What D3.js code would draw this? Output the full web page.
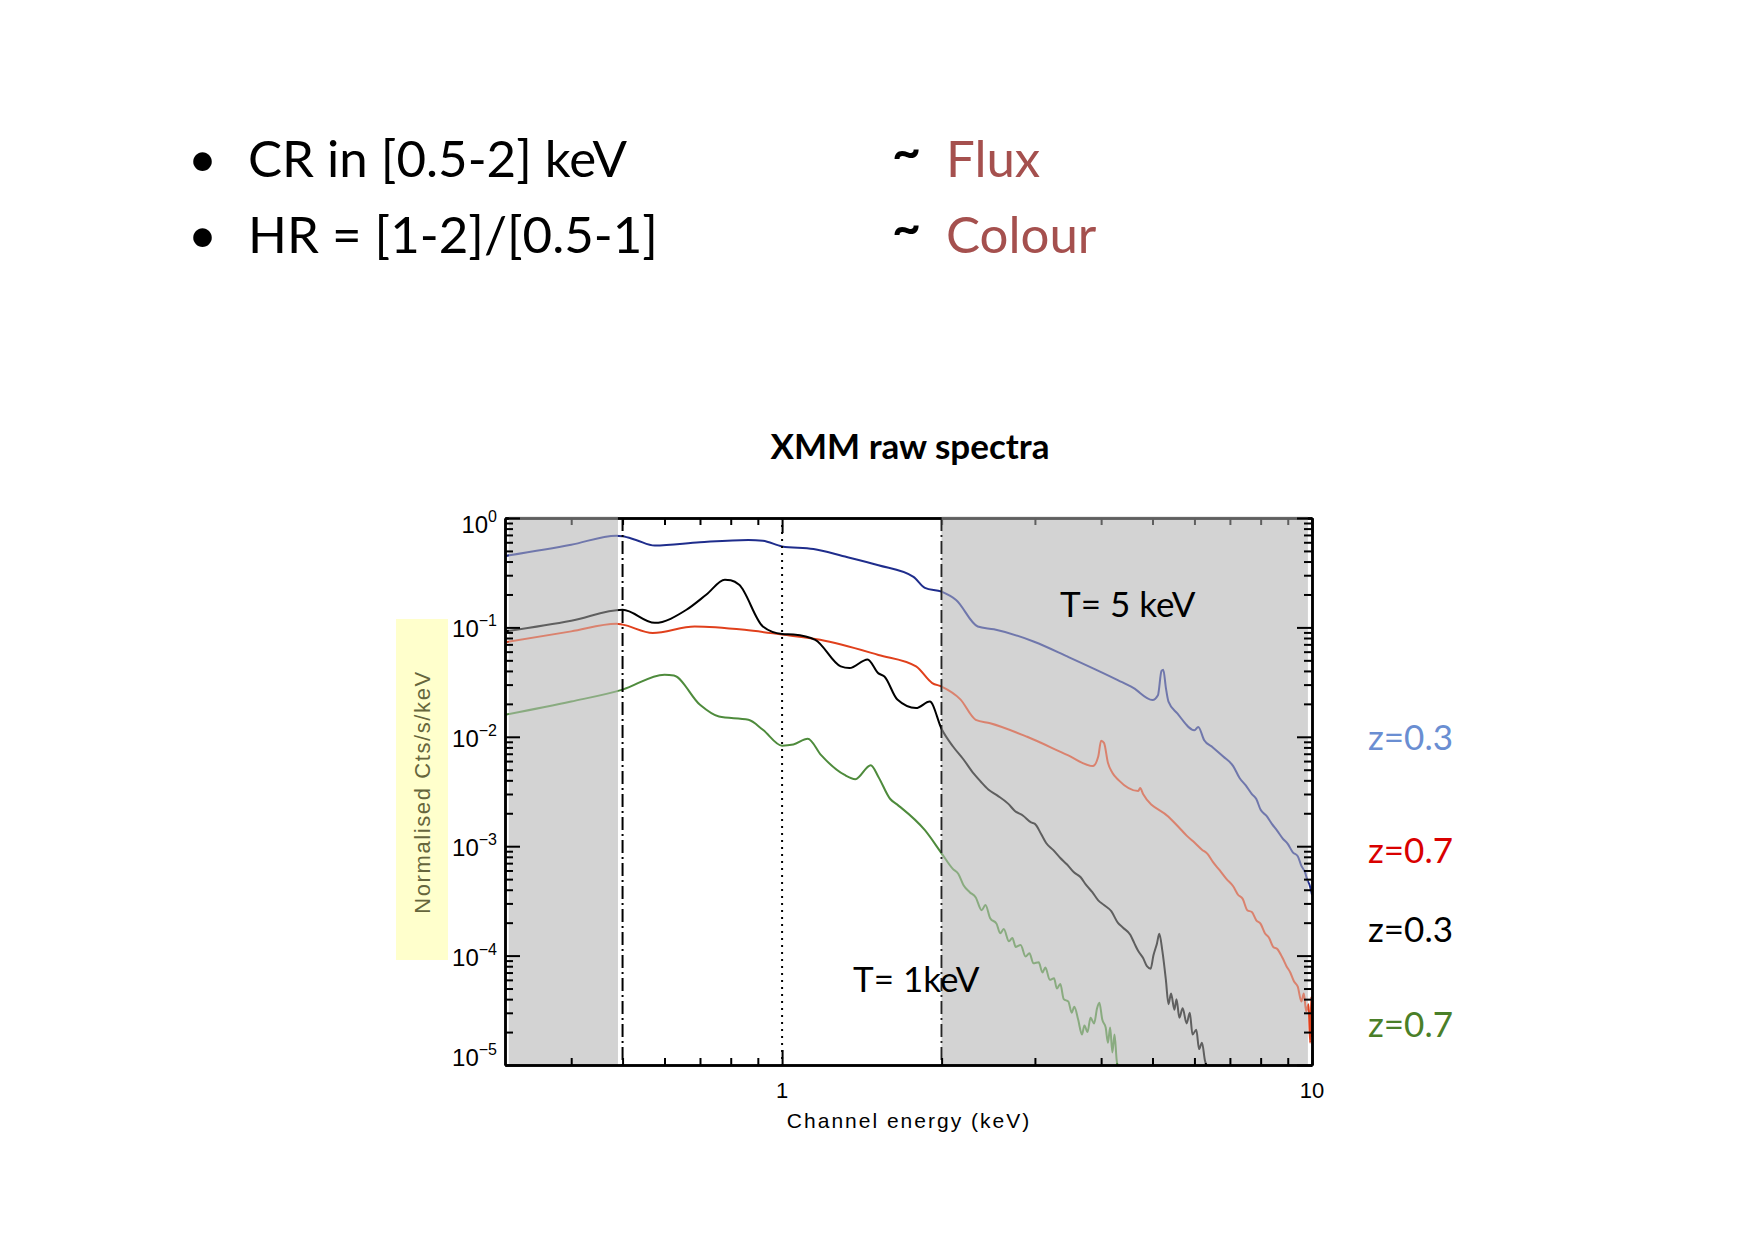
<!DOCTYPE html>
<html>
<head>
<meta charset="utf-8">
<script src="https://cdn.jsdelivr.net/npm/d3@7"></script>
<style>
  body { margin: 0; background: #fff; }
  svg { display: block; }
</style>
</head>
<body>
<svg id="chart" width="1754" height="1239"></svg>
<script>
// spectra: [channel energy (keV), normalised counts/s/keV]
const blueT5z03 = [
  [0.30, 0.45], [0.40, 0.57], [0.487, 0.69], [0.50, 0.68], [0.53, 0.63], [0.575, 0.56],
  [0.70, 0.60], [0.864, 0.63], [0.92, 0.62], [1.0, 0.55], [1.146, 0.52], [1.3, 0.45],
  [1.52, 0.37], [1.77, 0.29], [1.86, 0.23], [2.0, 0.212], [2.13, 0.178], [2.34, 0.102],
  [2.51, 0.096], [2.99, 0.074], [3.46, 0.054], [4.3, 0.033], [4.6, 0.028], [5.0, 0.0217],
  [5.12, 0.024], [5.2, 0.040], [5.24, 0.041], [5.3, 0.028], [5.36, 0.021], [5.57, 0.0164],
  [6.0, 0.0115], [6.1, 0.0123], [6.26, 0.0093], [6.5, 0.0080], [6.8, 0.0066], [7.1, 0.0054],
  [7.3, 0.0042], [7.5, 0.0036], [7.7, 0.0030], [7.85, 0.0027], [8.0, 0.00215], [8.2, 0.0019],
  [8.4, 0.0016], [8.6, 0.00138], [8.8, 0.00118], [9.0, 0.00105], [9.2, 0.00088], [9.4, 0.00081],
  [9.55, 0.00066], [9.7, 0.00058], [9.8, 0.00049], [9.9, 0.00044], [10, 0.00036]
];
const redT5z07 = [
  [0.30, 0.073], [0.40, 0.092], [0.487, 0.108], [0.50, 0.106], [0.57, 0.089], [0.684, 0.102],
  [0.85, 0.095], [1.0, 0.086], [1.18, 0.077], [1.52, 0.056], [1.79, 0.044], [1.92, 0.031],
  [2.0, 0.0288], [2.17, 0.022], [2.32, 0.0143], [2.47, 0.0133], [2.9, 0.010], [3.46, 0.0068],
  [3.86, 0.0054], [3.95, 0.0066], [4.0, 0.0092], [4.05, 0.0088], [4.12, 0.0058], [4.2, 0.0047],
  [4.32, 0.0040], [4.7, 0.0032], [4.74, 0.0034], [4.8, 0.0030], [5.36, 0.00186], [5.6, 0.0015],
  [5.8, 0.00125], [6.0, 0.00108], [6.2, 0.00093], [6.35, 0.00085], [6.5, 0.00072], [6.7, 0.0006],
  [6.9, 0.0005], [7.1, 0.00043], [7.25, 0.00036], [7.4, 0.00033], [7.55, 0.00026], [7.7, 0.00025],
  [7.85, 0.00021], [8.0, 0.000195], [8.15, 0.00016], [8.3, 0.000145], [8.45, 0.00012],
  [8.6, 0.000115], [8.8, 0.000095], [8.95, 0.00008], [9.1, 0.00007], [9.25, 0.000058],
  [9.4, 0.000052], [9.55, 0.000038], [9.65, 0.000045], [9.75, 0.000031], [9.85, 0.000036],
  [9.92, 0.000016], [9.97, 0.000042], [10, 0.000018]
];
const blackT1z03 = [
  [0.30, 0.092], [0.40, 0.115], [0.50, 0.145], [0.575, 0.11], [0.66, 0.145], [0.72, 0.20],
  [0.78, 0.273], [0.80, 0.27], [0.83, 0.245], [0.92, 0.102], [1.0, 0.087], [1.05, 0.086],
  [1.155, 0.077], [1.29, 0.044], [1.34, 0.0425], [1.45, 0.051], [1.52, 0.038], [1.56, 0.0356],
  [1.65, 0.0219], [1.79, 0.0183], [1.90, 0.021], [2.0, 0.0118], [2.1, 0.0082], [2.2, 0.0062],
  [2.3, 0.0046], [2.37, 0.0039], [2.45, 0.0033], [2.55, 0.0029], [2.67, 0.00245], [2.75, 0.0021],
  [2.85, 0.0019], [2.95, 0.00165], [3.0, 0.0016], [3.08, 0.0013], [3.15, 0.00107], [3.25, 0.00092],
  [3.35, 0.00078], [3.45, 0.00068], [3.55, 0.00058], [3.66, 0.00052], [3.75, 0.00044],
  [3.85, 0.00038], [3.95, 0.00032], [4.05, 0.00029], [4.18, 0.000255], [4.3, 0.0002],
  [4.4, 0.00018], [4.54, 0.000155], [4.62, 0.00013], [4.7, 0.00011], [4.8, 0.000095],
  [4.88, 0.00008], [4.96, 0.000076], [5.02, 0.0001], [5.1, 0.00013], [5.15, 0.000158],
  [5.22, 0.00011], [5.3, 0.00006], [5.36, 0.000036], [5.42, 0.000045], [5.5, 0.000032],
  [5.55, 0.00004], [5.62, 0.000027], [5.7, 0.000033], [5.8, 0.000024], [5.88, 0.00003],
  [5.95, 0.000019], [6.05, 0.000021], [6.12, 0.000014], [6.2, 0.000016], [6.28, 0.000011],
  [6.35, 0.0000095]
];
const greenT1z07 = [
  [0.30, 0.0159], [0.40, 0.021], [0.50, 0.027], [0.60, 0.037], [0.625, 0.0363], [0.70, 0.0196],
  [0.76, 0.0153], [0.864, 0.0143], [0.92, 0.0116], [1.0, 0.0083], [1.05, 0.0085], [1.118, 0.0096],
  [1.185, 0.0068], [1.31, 0.0045], [1.375, 0.0041], [1.47, 0.0055], [1.52, 0.0043], [1.6, 0.0027],
  [1.65, 0.0024], [1.86, 0.0014], [2.0, 0.00086], [2.1, 0.00062], [2.15, 0.00056], [2.2, 0.00044],
  [2.26, 0.00038], [2.32, 0.00034], [2.38, 0.00026], [2.42, 0.00029], [2.47, 0.00022],
  [2.54, 0.000195], [2.58, 0.00016], [2.62, 0.000175], [2.68, 0.000135], [2.72, 0.000145],
  [2.76, 0.00012], [2.82, 0.000125], [2.88, 0.000098], [2.93, 0.000105], [2.98, 0.000085],
  [3.05, 0.000087], [3.1, 0.00007], [3.14, 0.000078], [3.2, 0.00006], [3.26, 0.000062],
  [3.3, 0.00005], [3.35, 0.000055], [3.4, 0.00004], [3.47, 0.000038], [3.52, 0.00003],
  [3.56, 0.000034], [3.62, 0.000026], [3.68, 0.000019], [3.72, 0.000023], [3.77, 0.00002],
  [3.82, 0.000027], [3.88, 0.000024], [3.93, 0.000033], [3.97, 0.000037], [4.02, 0.000026],
  [4.08, 0.000022], [4.12, 0.000016], [4.16, 0.000022], [4.2, 0.000013], [4.24, 0.000019],
  [4.28, 0.000011], [4.32, 0.000009]
];

const spectra = [
  { data: blueT5z03, color: "#1f2d8c" },
  { data: redT5z07, color: "#e0401c" },
  { data: blackT1z03, color: "#000000" },
  { data: greenT1z07, color: "#4e8b3c" }
];

const xMajor = [1, 10];
const xMinor = [0.4, 0.5, 0.6, 0.7, 0.8, 0.9, 2, 3, 4, 5, 6, 7, 8, 9];
const yMajor = [1, 1e-1, 1e-2, 1e-3, 1e-4, 1e-5];
const yMinorMult = [2, 3, 4, 5, 6, 7, 8, 9];
const excluded = [[0.305, 0.49], [2, 9.82]];      // shaded energy ranges
const bandMarkers = [
  { e: 0.5, dash: "13,4,2,4" },
  { e: 1, dash: "2,5" },
  { e: 2, dash: "13,4,2,4" }
];
const bulletLines = [
  { text: "CR in [0.5-2] keV", proxy: "Flux" },
  { text: "HR = [1-2]/[0.5-1]", proxy: "Colour" }
];
const zLabels = [
  { text: "z=0.3", color: "#6a8ed2" },
  { text: "z=0.7", color: "#d90000" },
  { text: "z=0.3", color: "#000000" },
  { text: "z=0.7", color: "#4a7f28" }
];

const svg = d3.select("#chart");
const plot = { left: 505, right: 1312, top: 518, bottom: 1065 };

const x = d3.scaleLog().domain([0.3, 10]).range([plot.left, plot.right]);
const y = d3.scaleLog().domain([1e-5, 1]).range([plot.bottom, plot.top]);

const sansIDL = "'Liberation Sans', Arial, sans-serif";
const slide = "Lato, 'Open Sans', sans-serif";

// bullet text
bulletLines.forEach((b, i) => {
  const base = 177 + i * 76;
  svg.append("text").attr("x", 188).attr("y", base)
    .attr("font-family", slide).attr("font-size", 50).text("•");
  svg.append("text").attr("x", 248).attr("y", base)
    .attr("font-family", slide).attr("font-size", 51).text(b.text);
  svg.append("text").attr("x", 892).attr("y", base - 8)
    .attr("font-family", slide).attr("font-size", 50).attr("font-weight", 700).text("~");
  svg.append("text").attr("x", 946).attr("y", base)
    .attr("font-family", slide).attr("font-size", 51).attr("fill", "#a5504e").text(b.proxy);
});

// title
svg.append("text").attr("x", 910).attr("y", 459).attr("text-anchor", "middle")
  .attr("font-family", slide).attr("font-size", 35).attr("font-weight", 700)
  .text("XMM raw spectra");

// y label box
svg.append("rect").attr("x", 396).attr("y", 619).attr("width", 52).attr("height", 341)
  .attr("fill", "#ffffcc");
svg.append("text")
  .attr("transform", "translate(430,792) rotate(-90)")
  .attr("text-anchor", "middle")
  .attr("font-family", sansIDL).attr("font-size", 22).attr("letter-spacing", 1.6)
  .attr("fill", "#66663c")
  .text("Normalised Cts/s/keV");

// shaded ranges
svg.selectAll(".band").data(excluded).enter().append("rect")
  .attr("class", "band")
  .attr("x", d => x(d[0])).attr("y", plot.top)
  .attr("width", d => x(d[1]) - x(d[0])).attr("height", plot.bottom - plot.top)
  .attr("fill", "#d3d3d3");

// curves
svg.append("clipPath").attr("id", "clip").append("rect")
  .attr("x", plot.left).attr("y", plot.top)
  .attr("width", plot.right - plot.left).attr("height", plot.bottom - plot.top);

const line = d3.line()
  .x(d => x(d[0]))
  .y(d => y(d[1]))
  .curve(d3.curveMonotoneX);

svg.append("g").attr("clip-path", "url(#clip)")
  .selectAll("path").data(spectra).enter().append("path")
  .attr("d", d => line(d.data))
  .attr("fill", "none")
  .attr("stroke", d => d.color)
  .attr("stroke-width", 2)
  .attr("stroke-linejoin", "round");

// band boundaries
svg.selectAll(".marker").data(bandMarkers).enter().append("line")
  .attr("class", "marker")
  .attr("x1", d => x(d.e)).attr("x2", d => x(d.e))
  .attr("y1", plot.top).attr("y2", plot.bottom)
  .attr("stroke", "#000").attr("stroke-width", 2)
  .attr("stroke-dasharray", d => d.dash);

const yMinor = [];
yMajor.slice(1).forEach(v => yMinorMult.forEach(m => yMinor.push(v * m)));

function axis(gen, transform, values, size) {
  const g = svg.append("g").attr("transform", transform)
    .call(gen.tickValues(values).tickSize(size).tickSizeOuter(0).tickFormat(""));
  g.select(".domain").attr("stroke", "#000").attr("stroke-width", 2.5);
  g.selectAll(".tick line").attr("stroke", "#000").attr("stroke-width", 2);
  return g;
}

// top axis sits under the shading, like the original
axis(d3.axisTop(x), `translate(0,${plot.top})`, xMajor, -15);
axis(d3.axisTop(x), `translate(0,${plot.top})`, xMinor, -7);

// translucent shading over the curves
svg.selectAll(".veil").data(excluded).enter().append("rect")
  .attr("class", "veil")
  .attr("x", d => x(d[0])).attr("y", plot.top - 2)
  .attr("width", d => x(d[1]) - x(d[0])).attr("height", plot.bottom - plot.top)
  .attr("fill", "#d3d3d3").attr("opacity", 0.45);

axis(d3.axisBottom(x), `translate(0,${plot.bottom})`, xMajor, -15);
axis(d3.axisBottom(x), `translate(0,${plot.bottom})`, xMinor, -7);
axis(d3.axisLeft(y), `translate(${plot.left},0)`, yMajor, -15);
axis(d3.axisLeft(y), `translate(${plot.left},0)`, yMinor, -8);
axis(d3.axisRight(y), `translate(${plot.right},0)`, yMajor, -15);
axis(d3.axisRight(y), `translate(${plot.right},0)`, yMinor, -8);

// tick labels
yMajor.forEach(v => {
  const e = Math.round(Math.log10(v));
  const base = Math.min(Math.max(y(v) + 10, plot.top + 15), plot.bottom + 1);
  const t = svg.append("text").attr("x", 497).attr("y", base)
    .attr("text-anchor", "end").attr("font-family", sansIDL).attr("font-size", 24);
  t.append("tspan").text("10");
  t.append("tspan").attr("font-size", 16).attr("dy", -11).text(e === 0 ? "0" : "\u2212" + (-e));
});
xMajor.forEach(v => {
  svg.append("text").attr("x", x(v)).attr("y", 1098).attr("text-anchor", "middle")
    .attr("font-family", sansIDL).attr("font-size", 22).text(d3.format("d")(v));
});
svg.append("text").attr("x", 909).attr("y", 1128).attr("text-anchor", "middle")
  .attr("font-family", sansIDL).attr("font-size", 21).attr("letter-spacing", 2)
  .text("Channel energy (keV)");

// annotations
svg.append("text").attr("x", 1060).attr("y", 617)
  .attr("font-family", slide).attr("font-size", 35).text("T= 5 keV");
svg.append("text").attr("x", 853).attr("y", 992)
  .attr("font-family", slide).attr("font-size", 35).text("T= 1keV");

const zBase = [750, 863, 942, 1037];
zLabels.forEach((z, i) => {
  svg.append("text").attr("x", 1368).attr("y", zBase[i])
    .attr("font-family", slide).attr("font-size", 35).attr("fill", z.color).text(z.text);
});
</script>
</body>
</html>
